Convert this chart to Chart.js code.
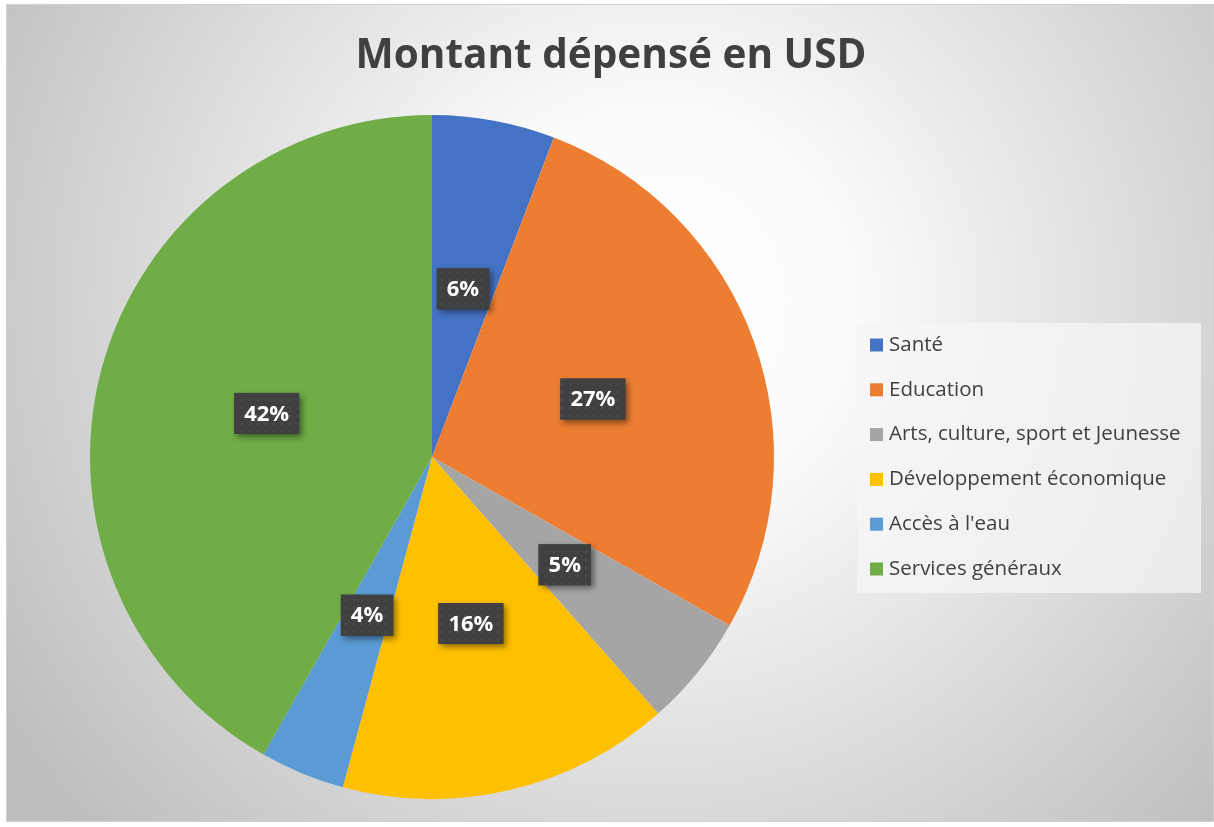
<!DOCTYPE html>
<html>
<head>
<meta charset="utf-8">
<script src="https://cdn.jsdelivr.net/npm/chart.js@4.4.1/dist/chart.umd.min.js"></script>
<style>
  html, body { margin: 0; padding: 0; background: #ffffff; }
  #wrap { position: absolute; left: 6px; top: 4px; width: 1208px; height: 818px; }
  canvas { display: block; }
</style>
</head>
<body>
<div id="wrap"><canvas id="c" width="1208" height="818"></canvas></div>
<script>
const titleText = "Montant dépensé en USD";
const categories = ["Santé", "Education", "Arts, culture, sport et Jeunesse", "Développement économique", "Accès à l'eau", "Services généraux"];
const values = [5.8, 27.4, 5.3, 15.7, 4.0, 41.8];
const colors = ["#4472C4", "#ED7D31", "#A5A5A5", "#FFC000", "#5B9BD5", "#70AD47"];

const bgPlugin = {
  id: 'bg',
  beforeDraw(chart) {
    const ctx = chart.ctx, w = chart.width, h = chart.height;
    ctx.save();
    const g = ctx.createRadialGradient(650, 300, 0, 650, 300, 780);
    g.addColorStop(0, '#ffffff');
    g.addColorStop(0.25, '#fbfbfb');
    g.addColorStop(1, '#bdbdbd');
    ctx.fillStyle = g;
    ctx.fillRect(0, 0, w, h);
    ctx.strokeStyle = '#d0d0d0';
    ctx.lineWidth = 1;
    ctx.strokeRect(0.5, 0.5, w - 1, h - 1);
    ctx.fillStyle = '#404040';
    ctx.font = 'bold 40.5px "Open Sans", sans-serif';
    ctx.textAlign = 'center';
    ctx.textBaseline = 'middle';
    ctx.fillText(titleText, 605, 52);
    ctx.restore();
  }
};

let dotPattern = null;
function getPattern(ctx) {
  if (dotPattern) return dotPattern;
  const pc = document.createElement('canvas');
  pc.width = 8; pc.height = 8;
  const p = pc.getContext('2d');
  p.fillStyle = '#404040';
  p.fillRect(0, 0, 8, 8);
  p.fillStyle = '#4c4c4c';
  p.fillRect(3, 3, 2, 2);
  dotPattern = ctx.createPattern(pc, 'repeat');
  return dotPattern;
}

const labelPlugin = {
  id: 'labels',
  afterDatasetsDraw(chart) {
    const ctx = chart.ctx;
    const meta = chart.getDatasetMeta(0);
    const data = chart.data.datasets[0].data;
    const total = data.reduce((a, b) => a + b, 0);
    ctx.save();
    ctx.font = 'bold 22px "Open Sans", sans-serif';
    meta.data.forEach((arc, i) => {
      const pos = arc.tooltipPosition();
      const txt = Math.round(data[i] / total * 100) + '%';
      const tw = ctx.measureText(txt).width;
      const bw = tw + 20, bh = 41;
      const x = pos.x - bw / 2, y = pos.y - bh / 2;
      ctx.save();
      ctx.shadowColor = 'rgba(0,0,0,0.45)';
      ctx.shadowBlur = 6;
      ctx.shadowOffsetX = 3;
      ctx.shadowOffsetY = 3;
      ctx.fillStyle = '#404040';
      ctx.fillRect(x, y, bw, bh);
      ctx.restore();
      ctx.fillStyle = getPattern(ctx);
      ctx.fillRect(x, y, bw, bh);
      ctx.fillStyle = '#ffffff';
      ctx.textAlign = 'center';
      ctx.textBaseline = 'middle';
      ctx.fillText(txt, pos.x, pos.y + 1);
    });
    ctx.restore();
  }
};

const legendPlugin = {
  id: 'customLegend',
  afterDraw(chart) {
    const ctx = chart.ctx;
    ctx.save();
    ctx.fillStyle = 'rgba(245,245,245,0.75)';
    ctx.fillRect(851, 319, 344, 270);
    ctx.font = '20.5px "Open Sans", sans-serif';
    ctx.textBaseline = 'middle';
    ctx.textAlign = 'left';
    chart.data.labels.forEach((lab, i) => {
      const cy = 341 + i * 44.8;
      ctx.fillStyle = chart.data.datasets[0].backgroundColor[i];
      ctx.fillRect(864, cy - 6.5, 13, 13);
      ctx.fillStyle = '#404040';
      ctx.fillText(lab, 883, cy);
    });
    ctx.restore();
  }
};

new Chart(document.getElementById('c'), {
  type: 'pie',
  data: {
    labels: categories,
    datasets: [{
      data: values,
      backgroundColor: colors,
      borderWidth: 0,
      hoverOffset: 0
    }]
  },
  options: {
    responsive: false,
    animation: false,
    layout: { padding: { left: 84, top: 111, right: 440, bottom: 23 } },
    plugins: {
      legend: { display: false },
      title: { display: false },
      tooltip: { enabled: false }
    }
  },
  plugins: [bgPlugin, labelPlugin, legendPlugin]
});
</script>
</body>
</html>
